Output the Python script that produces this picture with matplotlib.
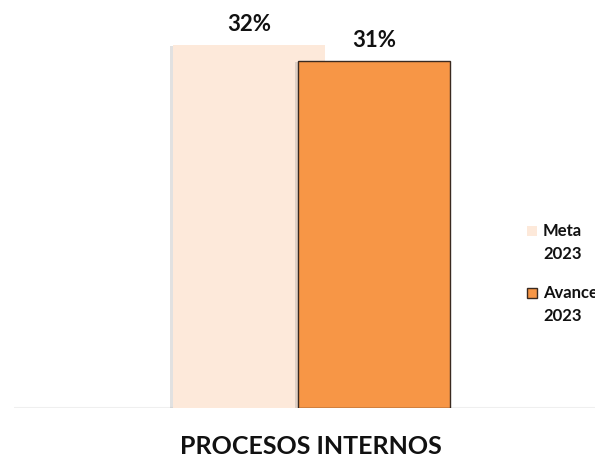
import matplotlib
matplotlib.use("Agg")
import matplotlib.pyplot as plt
import matplotlib.patheffects as pe
from matplotlib.patches import Rectangle

categories = ["Meta\n2023", "Avance\n2023"]
values = [0.32, 0.306]
colors = ["#FDE9DA", "#F79646"]
edges = ["none", "#3a2a20"]
title = "PROCESOS INTERNOS"

plt.rcParams["font.family"] = ["Lato", "DejaVu Sans"]

fig = plt.figure(figsize=(5.95, 4.58), dpi=100)
W, H = 595, 458
ax = fig.add_axes([14 / W, (H - 408) / H, (595 - 14) / W, 408 / H])

# bars overlap: centres 125 px apart, each 152 px wide
px = 125.0
positions = [0, 1]
width = 152 / px
shadow = [pe.SimplePatchShadow(offset=(-2, -1), alpha=0.25, shadow_rgbFace="#888888"), pe.Normal()]
for pos, v, c, e in zip(positions, values, colors, edges):
    b = ax.bar(pos, v, width=width, color=c, edgecolor=e, linewidth=1.0, zorder=2)
    for p in b:
        p.set_path_effects(shadow)
    ax.annotate(f"{v:.0%}", (pos, v), xytext=(0, 10), textcoords="offset points",
                ha="center", va="baseline", fontsize=16, fontweight="bold", color="#111111")

ax.set_xlim(-(249 - 14) / px, (595 - 249) / px)
ax.set_ylim(0, 0.32 * 408 / 363)
ax.axhline(0, color="#EFEFEF", linewidth=1.5, zorder=1)
for s in ax.spines.values():
    s.set_visible(False)
ax.set_xticks([])
ax.set_yticks([])
ax.patch.set_alpha(0)

# legend drawn by hand so the marker sits on the first text line
for i, (lab, c, e) in enumerate(zip(categories, colors, edges)):
    ytop = 231 + i * 62
    fig.patches.append(Rectangle((527 / W, 1 - (ytop + 5) / H), 10 / W, 10 / H,
                                 transform=fig.transFigure, facecolor=c,
                                 edgecolor=e, linewidth=1.0))
    for j, line in enumerate(lab.split("\n")):
        fig.text(543 / W, 1 - (ytop + j * 23) / H, line, ha="left", va="center",
                 fontsize=12, fontweight="bold", color="#111111")

fig.text(311 / W, 1 - 447 / H, title, ha="center", va="center", fontsize=18, fontweight="bold", color="#111111")

fig.savefig("out.png", dpi=100)
